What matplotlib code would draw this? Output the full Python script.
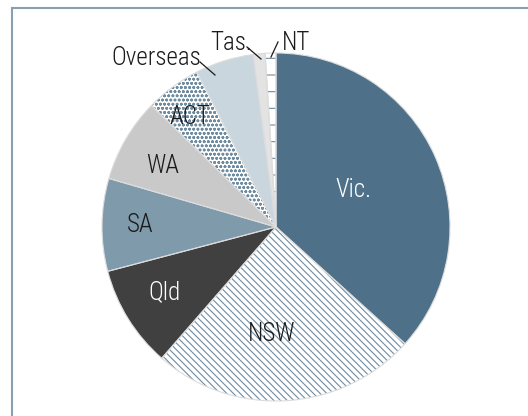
import matplotlib
matplotlib.use("Agg")
import matplotlib.pyplot as plt
from matplotlib.lines import Line2D

# share of each state (percent)
states = ["Vic.", "NSW", "Qld", "SA", "WA", "ACT", "Overseas", "Tas.", "NT"]
shares = [36.7, 24.7, 9.5, 8.6, 7.8, 5.2, 5.4, 1.1, 1.0]

fills = ["#4e7189", "white", "#404040", "#7f9aab", "#c9c9c9", "white",
         "#cad6de", "#e3e3e3", "white"]
hatches = [None, "\\\\\\\\\\", None, None, None, "oooo", None, None, "-"]
hatch_col = "#6f8ba0"

plt.rcParams["font.family"] = ["Roboto Condensed", "Liberation Sans Narrow",
                               "Open Sans Condensed", "Roboto", "DejaVu Sans"]
plt.rcParams["hatch.linewidth"] = 0.8

W, H = 528, 416
fig = plt.figure(figsize=(W / 100, H / 100), dpi=100)
ax = fig.add_axes([0, 0, 1, 1])

cx, cy, r = 276, H - 227, 174

# filled wedges with hatching
wedges, _ = ax.pie(shares, colors=fills, startangle=90, counterclock=False,
                   center=(cx, cy), radius=r,
                   wedgeprops=dict(linewidth=0, edgecolor=hatch_col))
for w, h in zip(wedges, hatches):
    if h:
        w.set_hatch(h)
        w.set_edgecolor(hatch_col)

# thin light outline on top
ax.pie(shares, colors=["none"] * len(shares), startangle=90, counterclock=False,
       center=(cx, cy), radius=r,
       wedgeprops=dict(linewidth=0.8, edgecolor="#dcdcdc", fill=False))

ax.set_xlim(0, W)
ax.set_ylim(0, H)
ax.set_aspect("equal")
ax.axis("off")

fs = 18
# labels inside the pie
inside = {"Vic.": (353, 190, "white"), "NSW": (272, 334, "#1a1a1a"),
          "Qld": (165, 292, "white"), "SA": (140, 225, "#1a1a1a"),
          "WA": (163, 166, "#1a1a1a"), "ACT": (190, 117, "#1a1a1a")}
for name, (x, y, c) in inside.items():
    ax.text(x, H - y, name, color=c, fontsize=fs, fontweight="light",
            ha="center", va="center")

# labels outside with leader lines
outside = {"Overseas": ((156, 58), (200, 62), (215, 75)),
           "Tas.": ((231, 43), (247, 47), (261, 59)),
           "NT": ((296, 43), (278, 42), (271, 57))}
for name, ((tx, ty), (x0, y0), (x1, y1)) in outside.items():
    ax.text(tx, H - ty, name, color="#1a1a1a", fontsize=fs, fontweight="light",
            ha="center", va="center")
    ax.plot([x0, x1], [H - y0, H - y1], color="#1a1a1a", lw=0.9)

# frame (top and left edges)
fig.add_artist(Line2D([12 / W, 1], [1 - 8 / H, 1 - 8 / H], color="#8aa0b0", lw=1.5))
fig.add_artist(Line2D([12 / W, 12 / W], [0, 1 - 8 / H], color="#8aa0b0", lw=1.5))

fig.savefig("out.png", dpi=100)
